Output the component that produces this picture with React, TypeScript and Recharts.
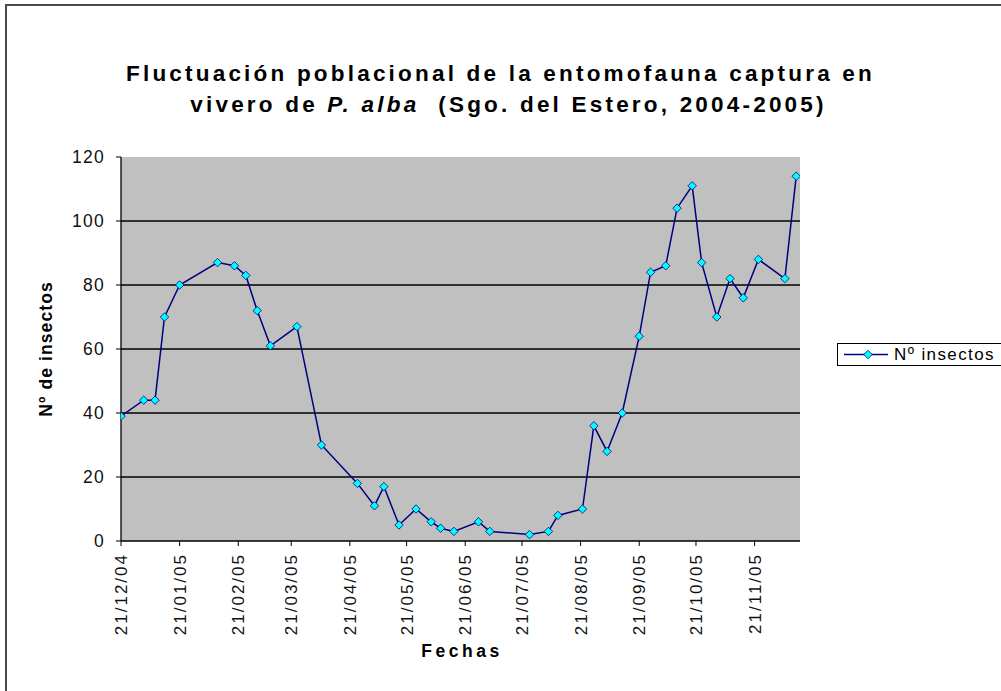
import React from 'react';
import { LineChart, Line, XAxis, YAxis, CartesianGrid } from 'recharts';

// fechas de muestreo (dd/mm/aa) y capturas
const fechas = [
    '21/12/04', '02/01/05', '08/01/05', '13/01/05', '21/01/05', '10/02/05', '19/02/05',
    '25/02/05', '03/03/05', '10/03/05', '24/03/05', '06/04/05', '25/04/05', '04/05/05',
    '09/05/05', '17/05/05', '26/05/05', '03/06/05', '08/06/05', '15/06/05', '28/06/05',
    '04/07/05', '25/07/05', '04/08/05', '09/08/05', '22/08/05', '28/08/05', '04/09/05',
    '12/09/05', '21/09/05', '27/09/05', '05/10/05', '11/10/05', '19/10/05', '24/10/05',
    '01/11/05', '08/11/05', '15/11/05', '23/11/05', '07/12/05', '13/12/05',
];
const insectos = [
    39, 44, 44, 70, 80, 87, 86,
    83, 72, 61, 67, 30, 18, 11,
    17, 5, 10, 6, 4, 3, 6,
    3, 2, 3, 8, 10, 36, 28,
    40, 64, 84, 86, 104, 111, 87,
    70, 82, 76, 88, 82, 114,
];
const tickFechas = [
    '21/12/04', '21/01/05', '21/02/05', '21/03/05', '21/04/05', '21/05/05',
    '21/06/05', '21/07/05', '21/08/05', '21/09/05', '21/10/05', '21/11/05',
];
const yTicks = [0, 20, 40, 60, 80, 100, 120];
const gridValues = [20, 40, 60, 80, 100];
const finEje = '15/12/05';

const NAVY = '#000080';
const FONT = '"Liberation Sans", Arial, sans-serif';

// días desde la primera fecha
function toDay(s: string): number {
    const [d, m, y] = s.split('/').map(Number);
    const base = Date.UTC(2004, 11, 21);
    return Math.round((Date.UTC(2000 + y, m - 1, d) - base) / 86400000);
}

const data = fechas.map((f, i) => ({ dia: toDay(f), valor: insectos[i] }));
const xTicks = tickFechas.map(toDay);

const Diamond = (props: any) => {
    const { cx, cy } = props;
    if (cx == null || cy == null) return null;
    const r = 4.2;
    return (
        <polygon
            points={`${cx},${cy - r} ${cx + r},${cy} ${cx},${cy + r} ${cx - r},${cy}`}
            fill="#00FFFF"
            stroke={NAVY}
            strokeWidth={0.8}
        />
    );
};

const XTick = (props: any) => {
    const { x, y, payload } = props;
    const idx = xTicks.indexOf(payload.value);
    const label = idx >= 0 ? tickFechas[idx] : '';
    const tx = x + 6;
    const ty = y + 5;
    return (
        <text
            x={tx}
            y={ty}
            transform={`rotate(-90, ${tx}, ${ty})`}
            textAnchor="end"
            fontSize={17}
            fontFamily={FONT}
            fill="#111"
            style={{ letterSpacing: '2px' }}
        >
            {label}
        </text>
    );
};

export default function App() {
    return (
        <div
            style={{
                position: 'absolute',
                left: 0,
                top: 0,
                width: 1001,
                height: 691,
                background: '#fff',
                overflow: 'hidden',
                fontFamily: FONT,
            }}
        >
            <div
                style={{
                    position: 'absolute',
                    left: 5,
                    top: 4,
                    width: 1100,
                    height: 800,
                    borderLeft: '2px solid #4a4a4a',
                    borderTop: '2px solid #4a4a4a',
                }}
            />
            <div
                style={{
                    position: 'absolute',
                    left: 0,
                    top: 58,
                    width: 1001,
                    textAlign: 'center',
                    fontSize: 22.5,
                    fontWeight: 'bold',
                    lineHeight: '31px',
                    letterSpacing: '3.2px',
                    color: '#000',
                }}
            >
                <div>Fluctuación poblacional de la entomofauna captura en</div>
                <div style={{ paddingLeft: 16 }}>
                    vivero de <i>P. alba</i>&nbsp; (Sgo. del Estero, 2004-2005)
                </div>
            </div>

            <div style={{ position: 'absolute', left: 0, top: 0 }}>
                <LineChart
                    width={1001}
                    height={691}
                    data={data}
                    margin={{ top: 157, right: 201, bottom: 60, left: 61 }}
                >
                    <CartesianGrid
                        vertical={false}
                        horizontalValues={gridValues}
                        stroke="#000"
                        strokeWidth={1.3}
                        fill="#C0C0C0"
                        fillOpacity={1}
                    />
                    <XAxis
                        dataKey="dia"
                        type="number"
                        domain={[0, toDay(finEje)]}
                        ticks={xTicks}
                        interval={0}
                        allowDataOverflow
                        height={90}
                        tickSize={5}
                        tickLine={{ stroke: '#000' }}
                        axisLine={{ stroke: '#000', strokeWidth: 1.3 }}
                        tick={<XTick />}
                    />
                    <YAxis
                        type="number"
                        domain={[0, 120]}
                        ticks={yTicks}
                        interval={0}
                        width={60}
                        tickSize={5}
                        tickMargin={11}
                        tickLine={{ stroke: '#000' }}
                        axisLine={{ stroke: '#000', strokeWidth: 1.3 }}
                        tick={{ fontSize: 17.5, fill: '#111', fontFamily: FONT, letterSpacing: 1.3 }}
                    />
                    <Line
                        type="linear"
                        dataKey="valor"
                        stroke={NAVY}
                        strokeWidth={1.5}
                        dot={<Diamond />}
                        activeDot={false}
                        isAnimationActive={false}
                    />
                </LineChart>
            </div>

            {/* título eje Y */}
            <div
                style={{
                    position: 'absolute',
                    left: 46,
                    top: 349,
                    transform: 'translate(-50%, -50%) rotate(-90deg)',
                    whiteSpace: 'nowrap',
                    fontSize: 17.5,
                    fontWeight: 'bold',
                    letterSpacing: '1.1px',
                }}
            >
                Nº de insectos
            </div>

            {/* título eje X */}
            <div
                style={{
                    position: 'absolute',
                    left: 462,
                    top: 651,
                    transform: 'translate(-50%, -50%)',
                    whiteSpace: 'nowrap',
                    fontSize: 17.5,
                    fontWeight: 'bold',
                    letterSpacing: '3.5px',
                }}
            >
                Fechas
            </div>

            {/* leyenda */}
            <div
                style={{
                    position: 'absolute',
                    left: 837,
                    top: 343,
                    width: 170,
                    height: 21,
                    border: '1px solid #000',
                    background: '#fff',
                    display: 'flex',
                    alignItems: 'center',
                }}
            >
                <svg width={50} height={21} style={{ flex: 'none' }}>
                    <line x1={6} y1={10.5} x2={51} y2={10.5} stroke={NAVY} strokeWidth={1.5} />
                    <Diamond cx={30} cy={10.5} />
                </svg>
                <span style={{ fontSize: 17, letterSpacing: '1.4px', marginLeft: 6, whiteSpace: 'nowrap' }}>
                    Nº insectos
                </span>
            </div>
        </div>
    );
}
